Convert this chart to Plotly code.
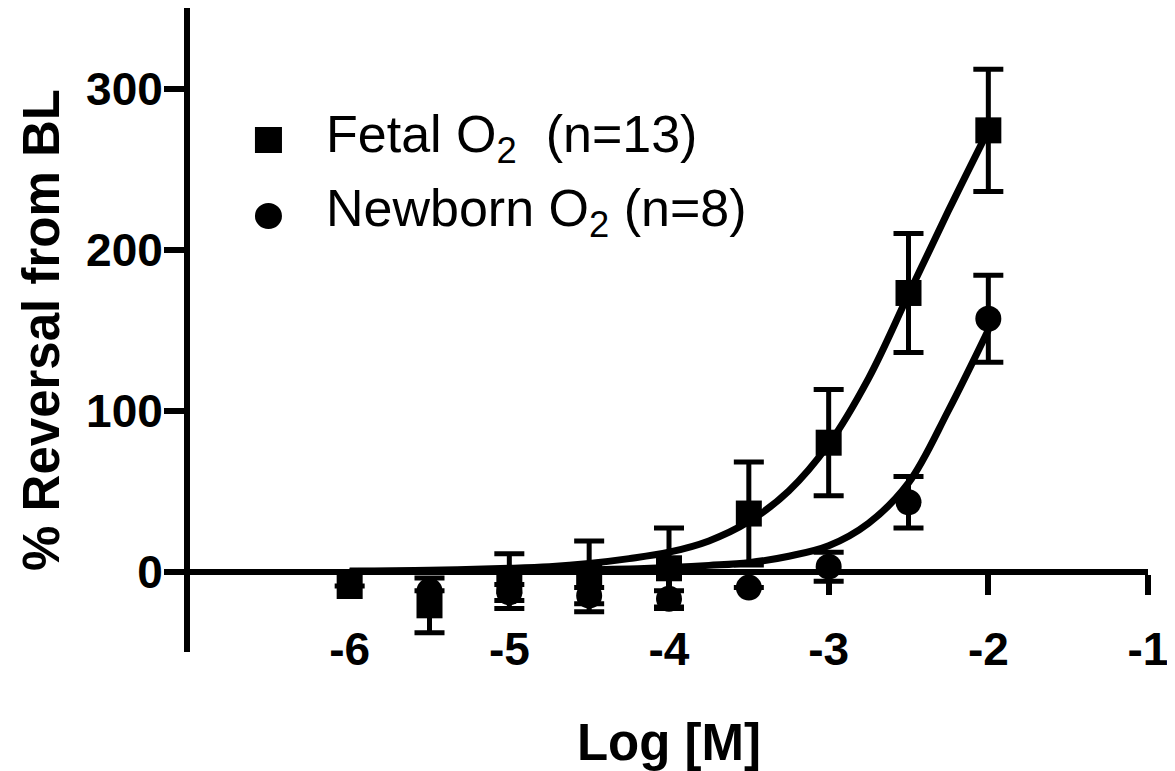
import plotly.graph_objects as go

# ---- data ----
log_m = [-6, -5.5, -5, -4.5, -4, -3.5, -3, -2.5, -2]
fetal_mean = [-9, -21, -6, -3, 2, 36, 80, 173, 274]
fetal_sem = [0, 17, 17, 22, 25, 32, 33, 37, 38]

log_m_nb = [-5.5, -5, -4.5, -4, -3.5, -3, -2.5, -2]
newborn_mean = [-12, -13, -15, -17, -10, 3, 43, 157]
newborn_sem = [0, 5, 5, 5, 0, 9, 16, 27]

fit_x = [-6, -5.5, -5, -4.75, -4.5, -4.25, -4, -3.75, -3.5, -3.25, -3, -2.75, -2.5, -2.25, -2]
fetal_fit = [0.3, 0.8, 2, 3, 5, 8, 12, 19, 31, 50, 79, 120, 172, 224, 274]
newborn_fit = [0, 0.1, 0.4, 0.6, 1, 1.6, 2.5, 3.8, 5.5, 9.5, 16, 30, 55, 100, 150]

x_ticks = [-6, -5, -4, -3, -2, -1]
x_ticklabels = ["-6", "-5", "-4", "-3", "-2", "-1"]
y_ticks = [0, 100, 200, 300]
y_ticklabels = ["0", "100", "200", "300"]

legend_labels = ["Fetal O<sub>2</sub>\u00a0\u00a0(n=13)", "Newborn O<sub>2</sub> (n=8)"]

FONT = "Liberation Sans, Arial, sans-serif"

fig = go.Figure()

fig.add_trace(go.Scatter(x=fit_x, y=fetal_fit, mode="lines", line=dict(color="black", width=7, shape="spline"), hoverinfo="skip"))
fig.add_trace(go.Scatter(x=fit_x, y=newborn_fit, mode="lines", line=dict(color="black", width=7, shape="spline"), hoverinfo="skip"))

fig.add_trace(go.Scatter(
    x=log_m, y=fetal_mean, mode="markers",
    marker=dict(symbol="square", size=26, color="black"),
    error_y=dict(type="data", array=fetal_sem, color="black", thickness=5, width=15),
    name="Fetal"))
fig.add_trace(go.Scatter(
    x=log_m_nb, y=newborn_mean, mode="markers",
    marker=dict(symbol="circle", size=26, color="black"),
    error_y=dict(type="data", array=newborn_sem, color="black", thickness=5, width=15),
    name="Newborn"))

# legend (drawn manually to match the large symbols)
fig.add_shape(type="rect", xref="paper", yref="paper", x0=0.0678, x1=0.0960, y0=0.7748, y1=0.8152,
              fillcolor="black", line=dict(width=0))
fig.add_shape(type="circle", xref="paper", yref="paper", x0=0.0678, x1=0.0960, y0=0.6568, y1=0.6972,
              fillcolor="black", line=dict(width=0))
for lbl, yy in zip(legend_labels, [0.798, 0.683]):
    fig.add_annotation(text=lbl, xref="paper", yref="paper", x=0.140, y=yy, xanchor="left", yanchor="middle",
                       showarrow=False, font=dict(family=FONT, size=52, color="black"))

# the page body adds an 8px offset, so the figure is sized to fit the window
fig.update_layout(
    width=1167, height=763,
    margin=dict(l=182, r=27, t=0, b=119, autoexpand=False),
    plot_bgcolor="white", paper_bgcolor="white",
    showlegend=False,
    font=dict(family=FONT, color="black"),
)
fig.update_xaxes(
    range=[-7, -1], tickvals=x_ticks, ticktext=x_ticklabels,
    showline=True, linewidth=6, linecolor="black", mirror=False,
    ticks="outside", ticklen=20, tickwidth=6, tickcolor="black",
    tickfont=dict(family=FONT, size=46, color="black", weight="bold"),
    ticklabelstandoff=15,
    anchor="free", position=0.125,
    showgrid=False, zeroline=False, automargin=False,
    title=dict(text="Log [M]", font=dict(family=FONT, size=51, color="black", weight="bold"), standoff=50),
)
fig.update_yaxes(
    range=[-50, 350], tickvals=y_ticks, ticktext=y_ticklabels,
    showline=True, linewidth=6, linecolor="black",
    ticks="outside", ticklen=20, tickwidth=6, tickcolor="black",
    tickfont=dict(family=FONT, size=46, color="black", weight="bold"),
    ticklabelstandoff=-8,
    showgrid=False, zeroline=False, automargin=False,
    title=dict(text="% Reversal from BL", font=dict(family=FONT, size=51, color="black", weight="bold"), standoff=12),
)

fig.write_html("out.html")
